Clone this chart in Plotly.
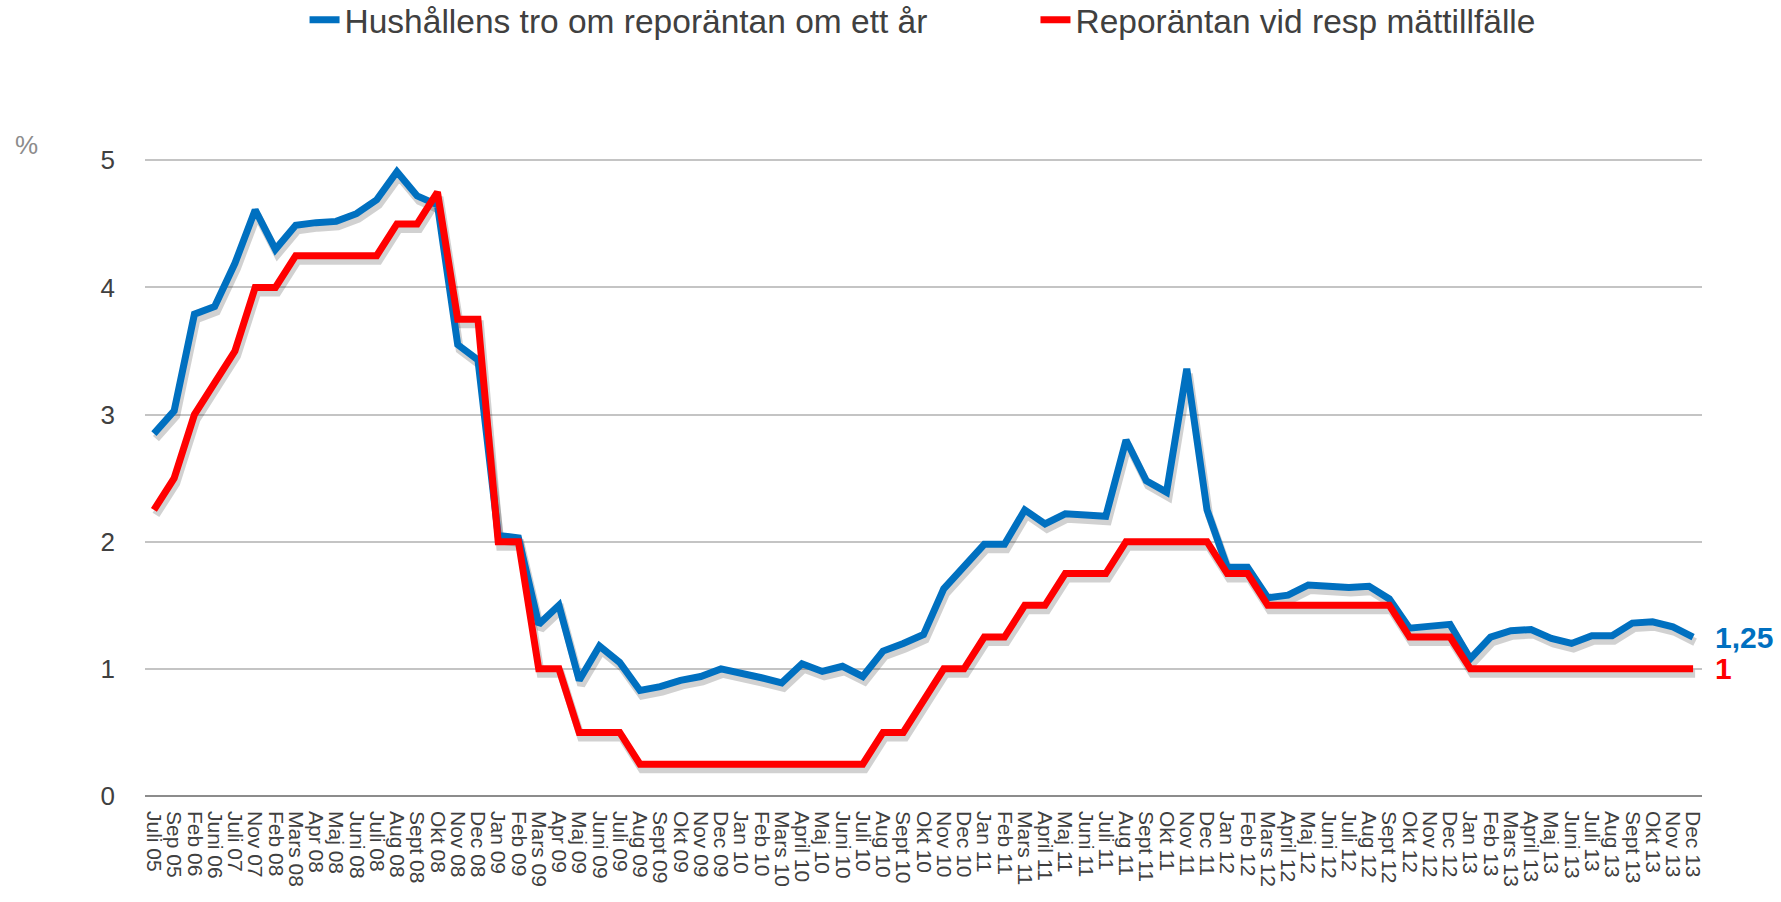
import plotly.graph_objects as go

months = ["Juli 05", "Sep 05", "Feb 06", "Juni 06", "Juli 07", "Nov 07",
          "Feb 08", "Mars 08", "Apr 08", "Maj 08", "Juni 08", "Juli 08", "Aug 08", "Sept 08", "Okt 08", "Nov 08", "Dec 08",
          "Jan 09", "Feb 09", "Mars 09", "Apr 09", "Maj 09", "Juni 09", "Juli 09", "Aug 09", "Sept 09", "Okt 09", "Nov 09", "Dec 09",
          "Jan 10", "Feb 10", "Mars 10", "April 10", "Maj 10", "Juni 10", "Juli 10", "Aug 10", "Sept 10", "Okt 10", "Nov 10", "Dec 10",
          "Jan 11", "Feb 11", "Mars 11", "April 11", "Maj 11", "Juni 11", "Juli 11", "Aug 11", "Sept 11", "Okt 11", "Nov 11", "Dec 11",
          "Jan 12", "Feb 12", "Mars 12", "April 12", "Maj 12", "Juni 12", "Juli 12", "Aug 12", "Sept 12", "Okt 12", "Nov 12", "Dec 12",
          "Jan 13", "Feb 13", "Mars 13", "April 13", "Maj 13", "Juni 13", "Juli 13", "Aug 13", "Sept 13", "Okt 13", "Nov 13", "Dec 13"]

hushall = [2.85, 3.03, 3.79, 3.85, 4.19, 4.61,
           4.30, 4.49, 4.51, 4.52, 4.58, 4.69, 4.91, 4.72, 4.65, 3.55, 3.43,
           2.05, 2.03, 1.35, 1.50, 0.91, 1.18, 1.05, 0.83, 0.86, 0.91, 0.94, 1.00,
           0.97, 0.93, 0.89, 1.04, 0.98, 1.02, 0.94, 1.14, 1.20, 1.27, 1.63, 1.81,
           1.98, 1.98, 2.25, 2.14, 2.22, 2.21, 2.20, 2.80, 2.48, 2.39, 3.36, 2.25,
           1.80, 1.80, 1.56, 1.58, 1.66, 1.65, 1.64, 1.65, 1.55, 1.32, 1.33, 1.35,
           1.08, 1.25, 1.30, 1.31, 1.24, 1.20, 1.26, 1.26, 1.36, 1.37, 1.33, 1.25]

repo = [2.25, 2.50, 3.00, 3.25, 3.50, 4.00,
        4.00, 4.25, 4.25, 4.25, 4.25, 4.25, 4.50, 4.50, 4.75, 3.75, 3.75,
        2.00, 2.00, 1.00, 1.00, 0.50, 0.50, 0.50, 0.25, 0.25, 0.25, 0.25, 0.25,
        0.25, 0.25, 0.25, 0.25, 0.25, 0.25, 0.25, 0.50, 0.50, 0.75, 1.00, 1.00,
        1.25, 1.25, 1.50, 1.50, 1.75, 1.75, 1.75, 2.00, 2.00, 2.00, 2.00, 2.00,
        1.75, 1.75, 1.50, 1.50, 1.50, 1.50, 1.50, 1.50, 1.50, 1.25, 1.25, 1.25,
        1.00, 1.00, 1.00, 1.00, 1.00, 1.00, 1.00, 1.00, 1.00, 1.00, 1.00, 1.00]

y_ticks = [0, 1, 2, 3, 4, 5]

BLUE = "#0070C0"
RED = "#FF0000"
FONT = "Liberation Sans, Arial, sans-serif"
SHADOW = "rgba(0,0,0,0.18)"

x_range = [-0.44, 76.44]
y_range = [0, 5.05]
dy = 5 / 127.1   # shadow offset (data units) -> a few pixels lower
dx = 0.1         # shadow offset in categories -> a couple of pixels right

fig = go.Figure()

# drop shadows (base axes, drawn beneath)
fig.add_trace(go.Scatter(x=months, y=hushall, mode="lines", xaxis="x", yaxis="y",
                         line=dict(color=SHADOW, width=8), showlegend=False, hoverinfo="skip"))
fig.add_trace(go.Scatter(x=months, y=repo, mode="lines", xaxis="x", yaxis="y",
                         line=dict(color=SHADOW, width=8), showlegend=False, hoverinfo="skip"))

# main series
fig.add_trace(go.Scatter(x=months, y=hushall, mode="lines", xaxis="x2", yaxis="y2",
                         name="Hushållens tro om reporäntan om ett år", legend="legend",
                         line=dict(color=BLUE, width=7)))
fig.add_trace(go.Scatter(x=months, y=repo, mode="lines", xaxis="x2", yaxis="y2",
                         name="Reporäntan vid resp mättillfälle", legend="legend2",
                         line=dict(color=RED, width=7)))

legend_common = dict(orientation="h", xref="container", yref="container",
                     xanchor="left", yanchor="middle",
                     font=dict(family=FONT, size=33.5, color="#404040"),
                     bgcolor="rgba(0,0,0,0)")

fig.update_layout(
    width=1781, height=902,
    margin=dict(l=145, r=79, t=154, b=106),
    paper_bgcolor="white", plot_bgcolor="white",
    font=dict(family=FONT, color="#404040"),
    xaxis=dict(type="category", categoryarray=months, range=[x_range[0] - dx, x_range[1] - dx],
               visible=False, fixedrange=True),
    yaxis=dict(range=[y_range[0] + dy, y_range[1] + dy], visible=False, fixedrange=True),
    xaxis2=dict(type="category", categoryarray=months, overlaying="x", anchor="y2", side="bottom",
                range=x_range, tickmode="array", tickvals=months, ticktext=months,
                tickangle=90, tickfont=dict(family=FONT, size=21, color="#404040"),
                showgrid=False, ticks="", showline=False, ticklabelstandoff=14),
    yaxis2=dict(overlaying="y", anchor="x2", side="left", range=y_range,
                tickmode="array", tickvals=y_ticks, ticks="",
                tickfont=dict(family=FONT, size=26, color="#404040"),
                showgrid=True, gridcolor="#c4c4c4", gridwidth=2,
                zeroline=True, zerolinecolor="#8c8c8c", zerolinewidth=2,
                showline=False, ticklabelstandoff=29),
    legend=dict(x=0.171, y=0.9778, **legend_common),
    legend2=dict(x=0.5814, y=0.9778, **legend_common),
    showlegend=True,
)

fig.add_annotation(x=months[-1], y=hushall[-1], xref="x2", yref="y2",
                   text=f"{hushall[-1]:.2f}".replace(".", ","), showarrow=False,
                   xanchor="left", yanchor="middle", xshift=20,
                   font=dict(family=FONT, size=30, color=BLUE, weight="bold"))
fig.add_annotation(x=months[-1], y=repo[-1], xref="x2", yref="y2",
                   text=f"{repo[-1]:g}", showarrow=False,
                   xanchor="left", yanchor="middle", xshift=20,
                   font=dict(family=FONT, size=30, color=RED, weight="bold"))
fig.add_annotation(x=-0.076, y=1.014, xref="paper", yref="paper", text="%",
                   showarrow=False, xanchor="center", yanchor="middle",
                   font=dict(family=FONT, size=26, color="#8c8c8c"))

fig.write_html("out.html", config={"displayModeBar": False},
               post_script="document.body.style.margin='0';document.body.style.overflow='hidden';")
